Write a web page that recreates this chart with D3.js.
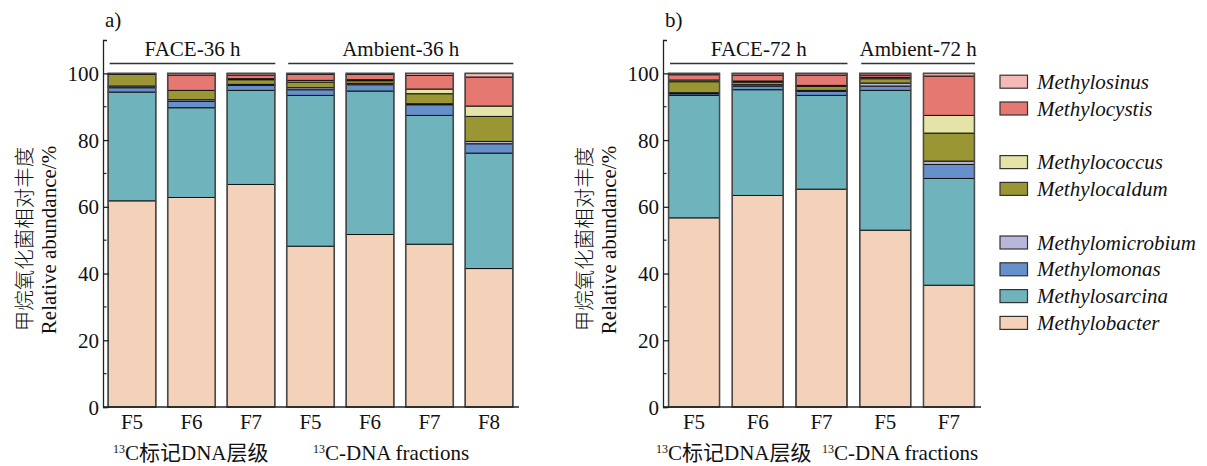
<!DOCTYPE html>
<html>
<head>
<meta charset="utf-8">
<script src="https://cdn.jsdelivr.net/npm/d3@7"></script>
<style>
  body { margin: 0; background: #fff; }
  svg text { font-family: "Liberation Serif", "Times New Roman", "Noto Sans CJK SC", serif; fill: #111; }
</style>
</head>
<body>
<div id="chart"></div>
<script>
// genera, bottom to top of each stack
const genera = ["Methylobacter", "Methylosarcina", "Methylomonas", "Methylomicrobium",
  "Methylocaldum", "Methylococcus", "Methylocystis", "Methylosinus"];

// panel a
const fractionsA = ["F5", "F6", "F7", "F5", "F6", "F7", "F8"];
const groupsA = ["FACE-36 h", "Ambient-36 h"];
const groupSizesA = [3, 4];
// one row per genus, one value per bar (%)
const abundanceA = [
  [61.8, 62.8, 66.7, 48.2, 51.7, 48.8, 41.5],
  [32.6, 26.9, 28.2, 45.2, 43.0, 38.6, 34.6],
  [1.3, 1.9, 1.5, 1.7, 1.9, 3.2, 2.8],
  [0.5, 0.5, 0.3, 0.6, 0.4, 0.3, 0.7],
  [3.5, 2.8, 1.4, 1.7, 0.8, 3.0, 7.5],
  [0.0, 0.0, 0.3, 0.5, 0.3, 1.4, 3.1],
  [0.3, 4.6, 1.1, 1.8, 1.6, 4.1, 8.7],
  [0.0, 0.5, 0.5, 0.3, 0.3, 0.6, 1.1]
];

// panel b
const fractionsB = ["F5", "F6", "F7", "F5", "F7"];
const groupsB = ["FACE-72 h", "Ambient-72 h"];
const groupSizesB = [3, 2];
const abundanceB = [
  [56.7, 63.4, 65.3, 53.0, 36.5],
  [36.7, 31.7, 28.1, 41.9, 32.0],
  [0.5, 1.1, 1.2, 1.3, 4.2],
  [0.3, 0.4, 0.3, 0.9, 1.0],
  [3.3, 0.8, 1.2, 1.3, 8.4],
  [0.5, 0.3, 0.3, 0.4, 5.3],
  [1.6, 1.8, 3.1, 0.7, 11.8],
  [0.4, 0.5, 0.5, 0.5, 0.8]
];

const yTicks = [0, 20, 40, 60, 80, 100];
const minorTicks = [10, 30, 50, 70, 90];

const colors = ["#f3d2b9", "#6fb4bd", "#6690c9", "#b8b7db",
  "#9a9634", "#e3e4a5", "#e57871", "#f5bab7"];
const color = d3.scaleOrdinal(genera, colors);

const serif = "'Liberation Serif', 'Times New Roman', 'Noto Sans CJK SC', serif";

const width = 1207, height = 466;
const svg = d3.select("#chart").append("svg")
  .attr("width", width)
  .attr("height", height);

const y = d3.scaleLinear().domain([0, 110]).range([407, 40]);

function drawPanel(left, right, fractions, groups, groupSizes, abundance, tag) {
  const g = svg.append("g");

  const x = d3.scaleBand()
    .domain(d3.range(fractions.length))
    .range([left, right])
    .paddingInner(0.2)
    .paddingOuter(0.087);

  const rows = fractions.map((f, i) => {
    const r = { i: i };
    genera.forEach((k, j) => r[k] = abundance[j][i]);
    return r;
  });
  const series = d3.stack().keys(genera)(rows);

  // stacked bars
  g.selectAll("g.layer")
    .data(series)
    .join("g")
    .attr("class", "layer")
    .attr("fill", d => color(d.key))
    .selectAll("rect")
    .data(d => d)
    .join("rect")
    .attr("x", d => x(d.data.i))
    .attr("width", x.bandwidth())
    .attr("y", d => y(d[1]))
    .attr("height", d => y(d[0]) - y(d[1]))
    .attr("stroke", "#111")
    .attr("stroke-width", 1);

  // bar outline
  g.selectAll("rect.outline")
    .data(rows)
    .join("rect")
    .attr("class", "outline")
    .attr("x", d => x(d.i))
    .attr("width", x.bandwidth())
    .attr("y", d => y(d3.sum(genera, k => d[k])))
    .attr("height", d => y(0) - y(d3.sum(genera, k => d[k])))
    .attr("fill", "none")
    .attr("stroke", "#4a4a4a")
    .attr("stroke-width", 1.5);

  // y axis, ticks pointing inward
  const yAxis = g.append("g")
    .attr("transform", "translate(" + left + ",0)")
    .attr("font-family", serif)
    .call(d3.axisLeft(y).tickValues(yTicks).tickSizeInner(-6).tickSizeOuter(-4).tickPadding(4));
  yAxis.attr("font-family", serif);
  yAxis.selectAll("text")
    .style("font-family", serif)
    .style("font-size", "21px")
    .attr("dy", "0.34em");
  yAxis.selectAll("line, path").attr("stroke", "#222").attr("stroke-width", 1.3);

  g.selectAll("line.minor")
    .data(minorTicks)
    .join("line")
    .attr("class", "minor")
    .attr("x1", left).attr("x2", left + 3.5)
    .attr("y1", d => y(d)).attr("y2", d => y(d))
    .attr("stroke", "#222").attr("stroke-width", 1.2);

  // x axis line
  g.append("line")
    .attr("x1", left).attr("x2", right + 1)
    .attr("y1", y(0)).attr("y2", y(0))
    .attr("stroke", "#222").attr("stroke-width", 1.3);

  // fraction labels
  g.selectAll("text.frac")
    .data(fractions)
    .join("text")
    .attr("class", "frac")
    .attr("x", (d, i) => x(i) + x.bandwidth() / 2)
    .attr("y", 429)
    .attr("text-anchor", "middle")
    .style("font-size", "21px")
    .text(d => d);

  // group headers
  let start = 0;
  groups.forEach((name, gi) => {
    const end = start + groupSizes[gi] - 1;
    const x0 = x(start) + 1.5, x1 = x(end) + x.bandwidth() + 0.5;
    g.append("line")
      .attr("x1", x0).attr("x2", x1)
      .attr("y1", 63.5).attr("y2", 63.5)
      .attr("stroke", "#333").attr("stroke-width", 1.3);
    g.append("text")
      .attr("x", (x0 + x1) / 2)
      .attr("y", 56)
      .attr("text-anchor", "middle")
      .style("font-size", "21px")
      .text(name);
    start = end + 1;
  });

  // panel tag
  g.append("text")
    .attr("x", left + 2)
    .attr("y", 27)
    .style("font-size", "21px")
    .text(tag);

  // y axis title, two lines
  g.append("text")
    .attr("transform", "translate(" + (left - 71) + ",239) rotate(-90)")
    .attr("text-anchor", "middle")
    .style("font-size", "20.5px")
    .style("font-family", "'Noto Sans CJK SC', sans-serif")
    .style("font-weight", 300)
    .text("甲烷氧化菌相对丰度");
  g.append("text")
    .attr("transform", "translate(" + (left - 47) + ",240) rotate(-90)")
    .attr("text-anchor", "middle")
    .style("font-family", serif)
    .style("font-size", "21px")
    .text("Relative abundance/%");
}

function bottomLabel(x0, x1) {
  const t1 = svg.append("text").attr("x", x0).attr("y", 460).style("font-size", "21px");
  t1.append("tspan").style("font-size", "12px").attr("dy", "-7").text("13");
  t1.append("tspan").attr("dy", "7").text("C标记DNA层级");
  const t2 = svg.append("text").attr("x", x1).attr("y", 460).style("font-size", "21px");
  t2.append("tspan").style("font-size", "12px").attr("dy", "-7").text("13");
  t2.append("tspan").attr("dy", "7").text("C-DNA fractions");
}

drawPanel(103, 518, fractionsA, groupsA, groupSizesA, abundanceA, "a)");
drawPanel(663, 980, fractionsB, groupsB, groupSizesB, abundanceB, "b)");
bottomLabel(113, 313);
bottomLabel(656, 822);

// legend, top to bottom with blank rows between the families
const legendOrder = ["Methylosinus", "Methylocystis", null, "Methylococcus", "Methylocaldum",
  null, "Methylomicrobium", "Methylomonas", "Methylosarcina", "Methylobacter"];
const legend = svg.append("g");
legendOrder.forEach((name, k) => {
  if (!name) return;
  const cy = 81.7 + 26.8 * k;
  legend.append("rect")
    .attr("x", 1000).attr("y", cy - 6.5)
    .attr("width", 27.5).attr("height", 13)
    .attr("fill", color(name))
    .attr("stroke", "#333").attr("stroke-width", 1.2);
  legend.append("text")
    .attr("x", 1037).attr("y", cy + 7)
    .style("font-family", serif)
    .style("font-size", "21px")
    .style("font-style", "italic")
    .text(name);
});
</script>
</body>
</html>
